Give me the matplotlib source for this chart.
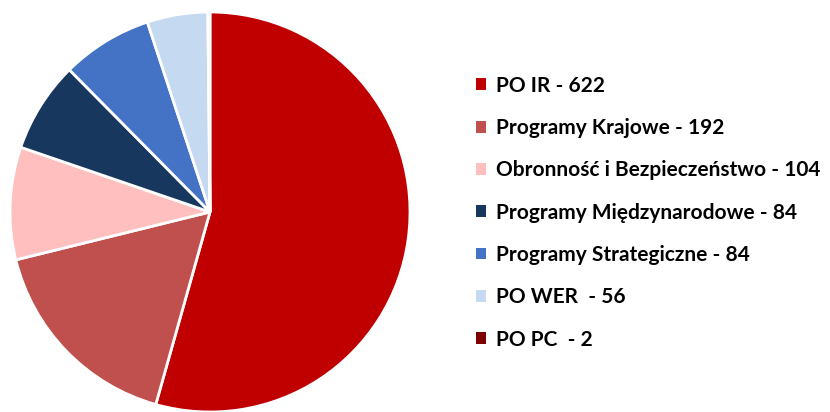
import matplotlib.pyplot as plt

labels = [
    "PO IR - 622",
    "Programy Krajowe - 192",
    "Obronność i Bezpieczeństwo - 104",
    "Programy Międzynarodowe - 84",
    "Programy Strategiczne - 84",
    "PO WER  - 56",
    "PO PC  - 2",
]
values = [622, 192, 104, 84, 84, 56, 2]
colors = ["#C00000", "#C0504D", "#FFBFBF", "#17375E", "#4472C4", "#C5D9F1", "#7F0000"]

fig = plt.figure(figsize=(8.30, 4.12), dpi=100)
ax = fig.add_axes([10 / 830, 0.0, 400 / 830, 400 / 412])

wedges, _ = ax.pie(
    values,
    colors=colors,
    startangle=90,
    counterclock=False,
    radius=1.0,
    wedgeprops={"edgecolor": "white", "linewidth": 2},
)
ax.set_xlim(-1.0, 1.0)
ax.set_ylim(-1.0, 1.0)
ax.set_aspect("equal")

leg = fig.legend(
    wedges,
    labels,
    loc="upper left",
    bbox_to_anchor=(457 / 830, 1 - 57 / 412),
    frameon=False,
    handlelength=0.5,
    handleheight=0.5,
    handletextpad=0.45,
    labelspacing=1.07,
    prop={"family": "Lato", "weight": "bold", "size": 15},
)
for h in leg.legend_handles:
    h.set_edgecolor("none")

fig.savefig("out.png", dpi=100)
